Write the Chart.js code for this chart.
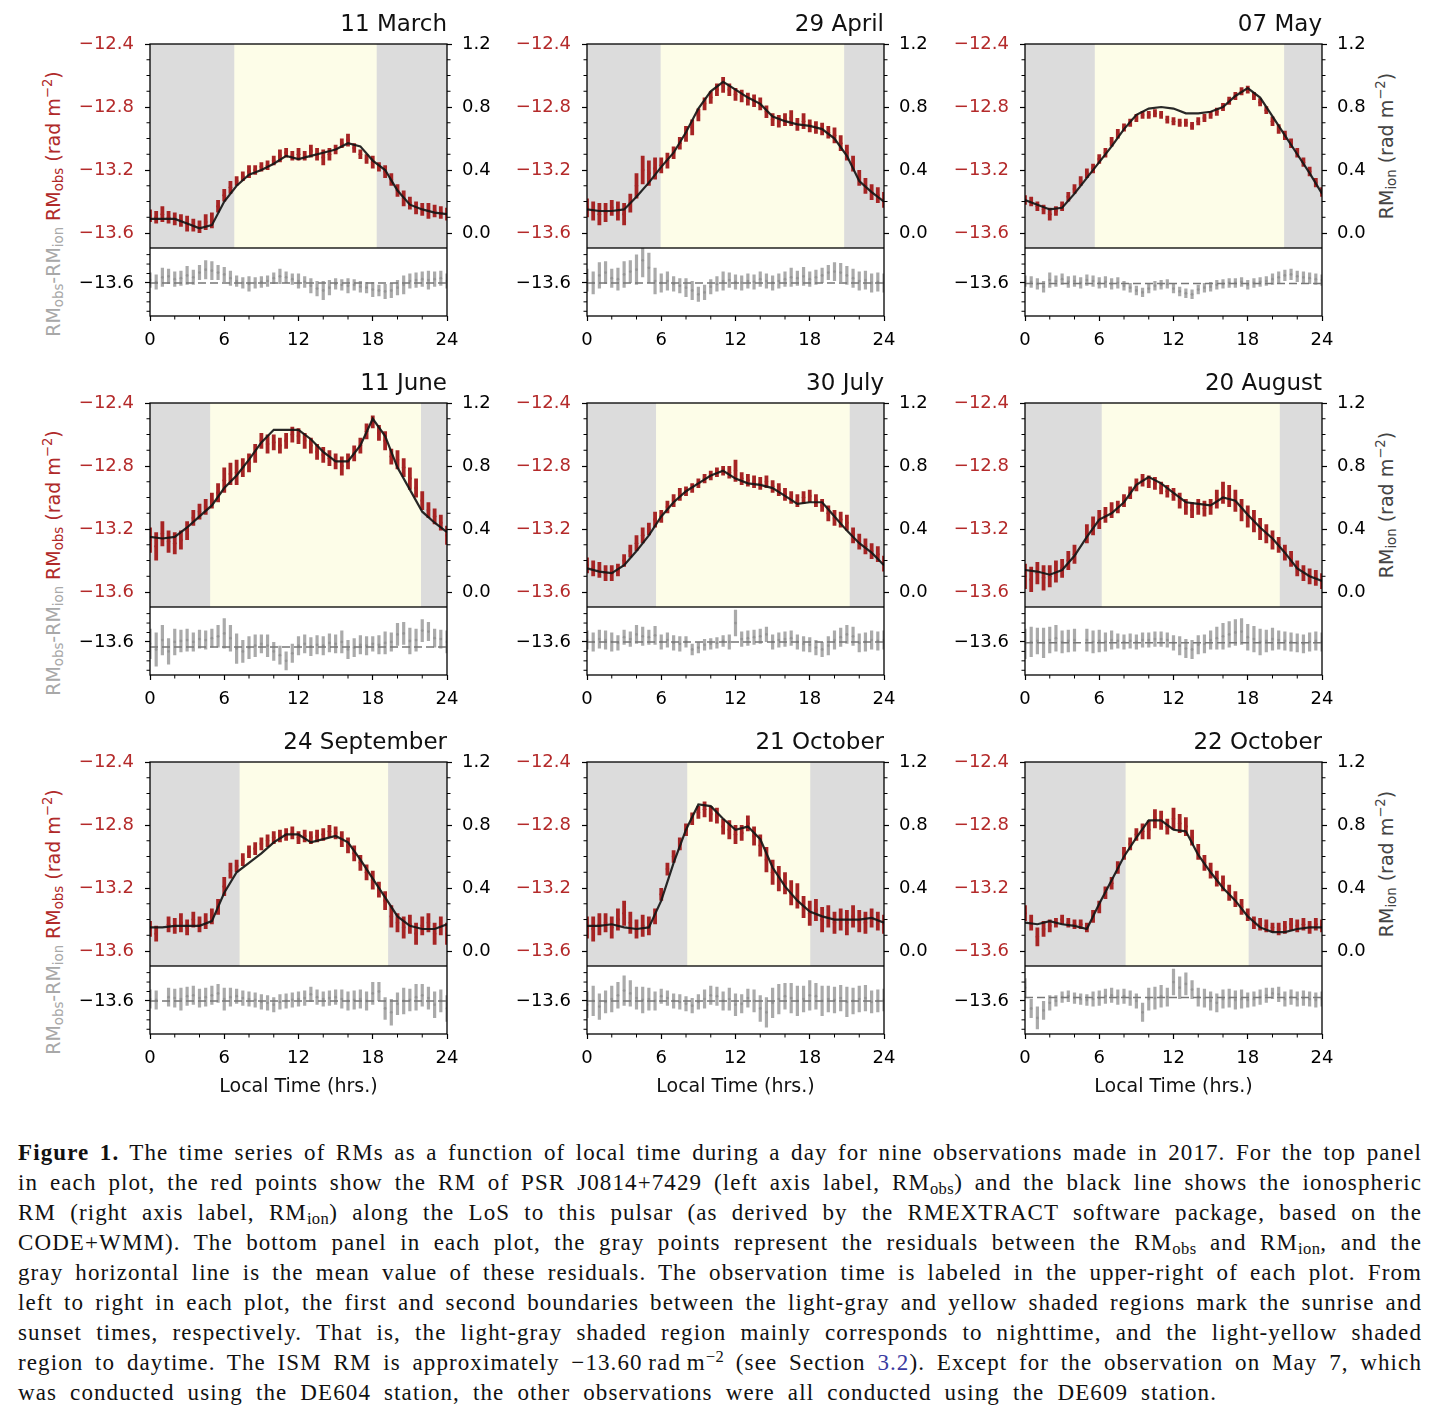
<!DOCTYPE html>
<html>
<head>
<meta charset="utf-8">
<script src="https://cdn.jsdelivr.net/npm/chart.js@4.4.1/dist/chart.umd.min.js"></script>
<style>
html, body { margin: 0; padding: 0; background: #fff; }
#fig { position: relative; width: 1440px; height: 1415px; overflow: hidden; font-family: "DejaVu Sans", sans-serif; }
.box { position: absolute; }
.box canvas { display: block; }
.ylab { position: absolute; white-space: nowrap; font-size: 19px; line-height: 19px;
        transform: translate(-50%, -50%) rotate(-90deg); }
.ylab sub { font-size: 70%; vertical-align: -0.3em; line-height: 0; }
.ylab sup { font-size: 70%; vertical-align: 0.55em; line-height: 0; }
.g { color: #a8a8a8; }
.r { color: #b02a2a; }
.k { color: #444; }
#cap { position: absolute; left: 18px; top: 1138px; width: 1404px; color: #111;
       font-family: "Liberation Serif", "Times New Roman", serif; font-size: 23px; line-height: 30px; letter-spacing: 1.1px; }
#cap .ln { text-align: justify; text-align-last: justify; height: 30px; }
#cap .last { width: 1199px; }
#cap sub { font-size: 72%; vertical-align: -0.25em; line-height: 0; letter-spacing: 0.4px; }
#cap sup { font-size: 72%; vertical-align: 0.5em; line-height: 0; letter-spacing: 0.4px; }
#cap .ref { color: #3b3ba0; }
</style>
</head>
<body>
<div id="fig">
  <div class="ylab" style="left:53px;top:204px"><span class="g">RM<sub>obs</sub>-RM<sub>ion</sub></span> <span class="r">RM<sub>obs</sub> (rad m<sup>−2</sup>)</span></div>
  <div class="ylab" style="left:53px;top:563px"><span class="g">RM<sub>obs</sub>-RM<sub>ion</sub></span> <span class="r">RM<sub>obs</sub> (rad m<sup>−2</sup>)</span></div>
  <div class="ylab" style="left:53px;top:922px"><span class="g">RM<sub>obs</sub>-RM<sub>ion</sub></span> <span class="r">RM<sub>obs</sub> (rad m<sup>−2</sup>)</span></div>
  <div class="ylab k" style="left:1386px;top:146px">RM<sub>ion</sub> (rad m<sup>−2</sup>)</div>
  <div class="ylab k" style="left:1386px;top:505px">RM<sub>ion</sub> (rad m<sup>−2</sup>)</div>
  <div class="ylab k" style="left:1386px;top:864px">RM<sub>ion</sub> (rad m<sup>−2</sup>)</div>

  <div id="cap">
    <div class="ln"><b>Figure 1.</b> The time series of RMs as a function of local time during a day for nine observations made in 2017. For the top panel</div>
    <div class="ln">in each plot, the red points show the RM of PSR J0814+7429 (left axis label, RM<sub>obs</sub>) and the black line shows the ionospheric</div>
    <div class="ln">RM (right axis label, RM<sub>ion</sub>) along the LoS to this pulsar (as derived by the RMEXTRACT software package, based on the</div>
    <div class="ln">CODE+WMM). The bottom panel in each plot, the gray points represent the residuals between the RM<sub>obs</sub> and RM<sub>ion</sub>, and the</div>
    <div class="ln">gray horizontal line is the mean value of these residuals. The observation time is labeled in the upper-right of each plot. From</div>
    <div class="ln">left to right in each plot, the first and second boundaries between the light-gray and yellow shaded regions mark the sunrise and</div>
    <div class="ln">sunset times, respectively. That is, the light-gray shaded region mainly corresponds to nighttime, and the light-yellow shaded</div>
    <div class="ln">region to daytime. The ISM RM is approximately −13.60&thinsp;rad&thinsp;m<sup>−2</sup> (see Section <span class="ref">3.2</span>). Except for the observation on May 7, which</div>
    <div class="ln last">was conducted using the DE604 station, the other observations were all conducted using the DE609 station.</div>
  </div>
</div>

<script>
// time grids (local time, hrs)
var hours = [0,1,2,3,4,5,6,7,8,9,10,11,12,13,14,15,16,17,18,19,20,21,22,23,24];
var halfHours = [0,0.5,1,1.5,2,2.5,3,3.5,4,4.5,5,5.5,6,6.5,7,7.5,8,8.5,9,9.5,10,10.5,11,11.5,
                 12,12.5,13,13.5,14,14.5,15,15.5,16,16.5,17,17.5,18,18.5,19,19.5,20,20.5,21,21.5,22,22.5,23,23.5,24];

var panelTitles = ['11 March', '29 April', '07 May', '11 June', '30 July', '20 August', '24 September', '21 October', '22 October'];
var sunrise = [6.81, 5.95, 5.64, 4.86, 5.58, 6.20, 7.24, 8.10, 8.13];
var sunset  = [18.32, 20.78, 20.94, 21.90, 21.23, 20.59, 19.24, 18.04, 18.07];
var resMean = [-13.600, -13.600, -13.603, -13.627, -13.600, -13.604, -13.600, -13.600, -13.582];

// tick labels
var leftTicks  = [-13.6, -13.2, -12.8, -12.4];
var leftMinor  = [-13.5, -13.4, -13.3, -13.1, -13.0, -12.9, -12.7, -12.6, -12.5];
var rightTicks = [0.0, 0.4, 0.8, 1.2];
var rightMinor = [0.1, 0.2, 0.3, 0.5, 0.6, 0.7, 0.9, 1.0, 1.1];
var resTicks   = [-13.6];
var resMinor   = [-13.75, -13.70, -13.65, -13.55, -13.50, -13.45];
var timeTicks  = [0, 6, 12, 18, 24];
var timeMinor  = [2, 4, 8, 10, 14, 16, 20, 22];

// ---- 11 March ----
var ion0311 = [0.09,0.09,0.09,0.06,0.03,0.05,0.20,0.30,0.37,0.40,0.44,0.49,0.47,0.49,0.51,0.53,0.57,0.55,0.46,0.40,0.27,0.18,0.15,0.13,0.12];
var obs0311 = [-13.49,-13.50,-13.48,-13.50,-13.51,-13.52,-13.54,-13.55,-13.56,-13.53,-13.52,-13.43,
               -13.36,-13.31,-13.27,-13.24,-13.21,-13.20,-13.18,-13.17,-13.14,-13.11,-13.09,-13.11,
               -13.10,-13.11,-13.08,-13.10,-13.12,-13.10,-13.07,-13.03,-13.01,-13.06,-13.10,-13.13,
               -13.15,-13.18,-13.21,-13.26,-13.33,-13.38,-13.41,-13.44,-13.45,-13.46,-13.46,-13.47,-13.48];
var err0311 = [0.04,0.04,0.05,0.04,0.04,0.04,0.05,0.04,0.04,0.05,0.05,0.04,
               0.04,0.04,0.03,0.03,0.04,0.03,0.03,0.03,0.03,0.04,0.03,0.03,
               0.04,0.03,0.04,0.04,0.05,0.04,0.03,0.03,0.04,0.03,0.03,0.03,
               0.04,0.03,0.04,0.04,0.04,0.05,0.04,0.04,0.04,0.05,0.04,0.04,0.04];
var res0311 = [-13.585,-13.595,-13.570,-13.565,-13.580,-13.575,-13.560,-13.570,-13.545,-13.530,-13.535,-13.545,
               -13.555,-13.575,-13.590,-13.600,-13.605,-13.600,-13.595,-13.590,-13.575,-13.565,-13.570,-13.580,
               -13.590,-13.595,-13.615,-13.630,-13.640,-13.625,-13.605,-13.610,-13.615,-13.610,-13.620,-13.625,
               -13.635,-13.640,-13.645,-13.640,-13.625,-13.610,-13.590,-13.585,-13.580,-13.585,-13.580,-13.575,-13.590];

// ---- 29 April ----
var ion0429 = [0.15,0.14,0.14,0.15,0.23,0.32,0.42,0.51,0.64,0.79,0.90,0.96,0.91,0.86,0.82,0.74,0.71,0.69,0.68,0.66,0.60,0.49,0.33,0.26,0.20];
var obs0429 = [-13.44,-13.46,-13.48,-13.47,-13.44,-13.46,-13.48,-13.41,-13.30,-13.20,-13.22,-13.19,
               -13.17,-13.14,-13.09,-13.03,-12.97,-12.93,-12.85,-12.78,-12.74,-12.69,-12.66,-12.69,
               -12.72,-12.73,-12.75,-12.76,-12.78,-12.83,-12.88,-12.89,-12.88,-12.87,-12.91,-12.89,
               -12.92,-12.93,-12.94,-12.96,-12.98,-13.03,-13.09,-13.16,-13.25,-13.30,-13.34,-13.36,-13.39];
var err0429 = [0.06,0.06,0.07,0.06,0.05,0.06,0.07,0.06,0.08,0.09,0.08,0.07,
               0.05,0.05,0.04,0.04,0.05,0.05,0.04,0.04,0.04,0.04,0.05,0.04,
               0.04,0.04,0.04,0.04,0.04,0.04,0.04,0.04,0.04,0.05,0.04,0.05,
               0.04,0.04,0.04,0.04,0.05,0.05,0.05,0.05,0.05,0.05,0.05,0.05,0.05];
var res0429 = [-13.585,-13.600,-13.560,-13.545,-13.575,-13.580,-13.555,-13.540,-13.530,-13.480,-13.520,-13.590,
               -13.600,-13.590,-13.605,-13.615,-13.625,-13.640,-13.660,-13.650,-13.620,-13.605,-13.590,-13.585,
               -13.595,-13.600,-13.590,-13.595,-13.580,-13.590,-13.600,-13.590,-13.580,-13.570,-13.575,-13.565,
               -13.580,-13.570,-13.560,-13.545,-13.540,-13.545,-13.560,-13.575,-13.590,-13.585,-13.600,-13.595,-13.600];

// ---- 07 May ----
var ion0507 = [0.21,0.18,0.15,0.16,0.25,0.35,0.45,0.55,0.66,0.75,0.79,0.80,0.79,0.76,0.76,0.77,0.80,0.87,0.92,0.86,0.74,0.62,0.50,0.38,0.25];
var obs0507 = [-13.39,-13.40,-13.43,-13.45,-13.48,-13.46,-13.43,-13.37,-13.32,-13.27,-13.22,-13.19,
               -13.13,-13.09,-13.02,-12.97,-12.93,-12.90,-12.87,-12.85,-12.85,-12.84,-12.85,-12.88,
               -12.89,-12.90,-12.90,-12.92,-12.89,-12.87,-12.85,-12.83,-12.80,-12.76,-12.73,-12.70,
               -12.69,-12.73,-12.77,-12.82,-12.89,-12.94,-12.98,-13.03,-13.09,-13.15,-13.21,-13.28,-13.34];
var err0507 = [0.03,0.03,0.03,0.03,0.04,0.03,0.03,0.03,0.03,0.03,0.03,0.03,
               0.03,0.03,0.03,0.03,0.025,0.025,0.025,0.025,0.025,0.025,0.025,0.025,
               0.025,0.025,0.025,0.025,0.025,0.025,0.025,0.025,0.025,0.025,0.025,0.025,
               0.025,0.025,0.025,0.025,0.03,0.03,0.03,0.03,0.03,0.03,0.03,0.03,0.03];
var res0507 = [-13.590,-13.595,-13.605,-13.620,-13.585,-13.590,-13.580,-13.595,-13.590,-13.600,-13.585,-13.590,
               -13.600,-13.595,-13.605,-13.600,-13.615,-13.625,-13.640,-13.650,-13.630,-13.615,-13.610,-13.605,
               -13.630,-13.645,-13.655,-13.660,-13.635,-13.625,-13.620,-13.610,-13.605,-13.600,-13.600,-13.595,
               -13.610,-13.600,-13.595,-13.590,-13.580,-13.570,-13.560,-13.555,-13.565,-13.570,-13.575,-13.580,-13.585];

// ---- 11 June ----
var ion0611 = [0.35,0.34,0.35,0.41,0.48,0.55,0.66,0.74,0.84,0.95,1.03,1.03,1.03,0.97,0.89,0.83,0.83,0.93,1.10,0.99,0.79,0.65,0.51,0.44,0.38];
var obs0611 = [-13.27,-13.31,-13.23,-13.28,-13.29,-13.27,-13.21,-13.13,-13.09,-13.06,-13.02,-12.97,
               -12.89,-12.85,-12.84,-12.81,-12.78,-12.72,-12.64,-12.66,-12.65,-12.67,-12.64,-12.60,
               -12.61,-12.64,-12.67,-12.71,-12.73,-12.75,-12.77,-12.80,-12.77,-12.72,-12.67,-12.58,
               -12.52,-12.59,-12.64,-12.74,-12.76,-12.81,-12.88,-12.94,-13.02,-13.08,-13.12,-13.16,-13.24];
var err0611 = [0.08,0.09,0.08,0.07,0.07,0.06,0.06,0.05,0.05,0.05,0.05,0.06,
               0.08,0.07,0.08,0.06,0.06,0.06,0.05,0.06,0.05,0.05,0.05,0.05,
               0.05,0.05,0.05,0.05,0.05,0.05,0.05,0.06,0.05,0.05,0.05,0.05,
               0.04,0.05,0.06,0.05,0.06,0.06,0.07,0.06,0.06,0.05,0.05,0.05,0.06];
var res0611 = [-13.610,-13.640,-13.590,-13.650,-13.600,-13.595,-13.590,-13.600,-13.585,-13.590,-13.580,-13.570,
               -13.555,-13.580,-13.635,-13.650,-13.630,-13.620,-13.610,-13.620,-13.650,-13.670,-13.700,-13.660,
               -13.620,-13.610,-13.625,-13.615,-13.620,-13.605,-13.610,-13.600,-13.640,-13.630,-13.615,-13.620,
               -13.610,-13.615,-13.605,-13.600,-13.560,-13.555,-13.595,-13.590,-13.540,-13.545,-13.580,-13.585,-13.600];

// ---- 30 July ----
var ion0730 = [0.15,0.13,0.12,0.17,0.26,0.36,0.48,0.57,0.64,0.69,0.74,0.77,0.72,0.69,0.68,0.66,0.61,0.56,0.57,0.57,0.48,0.39,0.31,0.25,0.17];
var obs0730 = [-13.43,-13.45,-13.46,-13.48,-13.48,-13.46,-13.40,-13.34,-13.29,-13.24,-13.20,-13.14,
               -13.12,-13.06,-13.02,-12.98,-12.96,-12.94,-12.91,-12.88,-12.86,-12.84,-12.83,-12.84,
               -12.83,-12.88,-12.89,-12.90,-12.91,-12.90,-12.93,-12.95,-12.98,-13.00,-13.02,-13.00,
               -12.99,-13.02,-13.05,-13.10,-13.13,-13.14,-13.16,-13.24,-13.28,-13.31,-13.34,-13.36,-13.42];
var err0730 = [0.05,0.05,0.05,0.05,0.05,0.04,0.04,0.04,0.05,0.05,0.04,0.05,
               0.04,0.04,0.04,0.04,0.03,0.03,0.03,0.03,0.03,0.03,0.03,0.04,
               0.07,0.04,0.04,0.04,0.04,0.04,0.04,0.04,0.04,0.04,0.04,0.04,
               0.04,0.04,0.04,0.05,0.05,0.05,0.05,0.05,0.05,0.05,0.05,0.05,0.05];
var res0730 = [-13.590,-13.600,-13.585,-13.590,-13.600,-13.605,-13.575,-13.585,-13.560,-13.570,-13.575,-13.565,
               -13.600,-13.590,-13.605,-13.610,-13.600,-13.640,-13.630,-13.615,-13.610,-13.605,-13.595,-13.600,
               -13.500,-13.585,-13.580,-13.575,-13.570,-13.560,-13.600,-13.590,-13.585,-13.580,-13.600,-13.610,
               -13.615,-13.630,-13.640,-13.620,-13.590,-13.575,-13.560,-13.570,-13.605,-13.600,-13.590,-13.595,-13.590];

// ---- 20 August ----
var ion0820 = [0.14,0.13,0.11,0.14,0.23,0.35,0.46,0.50,0.57,0.68,0.73,0.69,0.63,0.57,0.56,0.55,0.60,0.58,0.49,0.41,0.34,0.25,0.15,0.10,0.07];
var obs0820 = [-13.50,-13.52,-13.48,-13.51,-13.50,-13.47,-13.45,-13.40,-13.36,null,-13.23,-13.18,
               -13.14,-13.11,-13.08,-13.06,-13.02,-12.97,-12.92,-12.89,-12.90,-12.91,-12.94,-12.96,
               -12.98,-13.02,-13.06,-13.08,-13.06,-13.07,-13.06,-13.01,-12.97,-12.99,-13.02,-13.08,
               -13.12,-13.15,-13.20,-13.23,-13.27,-13.30,-13.35,-13.39,-13.45,-13.48,-13.50,-13.51,-13.53];
var err0820 = [0.08,0.08,0.07,0.08,0.07,0.07,0.06,0.06,0.06,0.06,0.06,0.06,
               0.06,0.05,0.05,0.04,0.04,0.04,0.04,0.04,0.04,0.04,0.04,0.04,
               0.04,0.05,0.05,0.05,0.05,0.05,0.05,0.06,0.07,0.07,0.07,0.07,
               0.07,0.07,0.07,0.06,0.06,0.05,0.05,0.05,0.05,0.05,0.05,0.05,0.05];
var res0820 = [-13.610,-13.600,-13.595,-13.605,-13.590,-13.580,-13.600,-13.595,-13.590,null,-13.590,-13.600,
               -13.595,-13.600,-13.590,-13.595,-13.600,-13.595,-13.600,-13.590,-13.590,-13.585,-13.585,-13.590,
               -13.605,-13.620,-13.635,-13.640,-13.615,-13.610,-13.590,-13.580,-13.570,-13.560,-13.550,-13.545,
               -13.575,-13.585,-13.600,-13.595,-13.585,-13.590,-13.595,-13.600,-13.605,-13.610,-13.600,-13.595,-13.600];

// ---- 24 September ----
var ion0924 = [0.15,0.15,0.16,0.16,0.16,0.19,0.37,0.50,0.56,0.62,0.69,0.74,0.74,0.69,0.71,0.73,0.69,0.58,0.46,0.34,0.22,0.16,0.14,0.14,0.17];
var obs0924 = [-13.46,-13.49,null,-13.43,-13.44,-13.42,-13.45,-13.40,-13.43,-13.41,-13.38,-13.32,
               -13.19,-13.09,-13.06,-13.02,-12.97,-12.95,-12.92,-12.90,-12.88,-12.87,-12.86,-12.85,
               -12.88,-12.87,-12.88,-12.87,-12.86,-12.84,-12.85,-12.89,-12.93,-12.98,-13.04,-13.10,
               -13.15,-13.21,-13.28,-13.38,-13.42,-13.45,-13.43,-13.49,-13.44,-13.42,-13.49,-13.44,-13.49];
var err0924 = [0.05,0.05,0.05,0.05,0.05,0.06,0.05,0.05,0.05,0.05,0.05,0.05,
               0.06,0.05,0.04,0.04,0.04,0.04,0.04,0.04,0.04,0.04,0.04,0.04,
               0.04,0.04,0.04,0.04,0.04,0.04,0.04,0.05,0.05,0.05,0.05,0.05,
               0.06,0.05,0.06,0.07,0.06,0.07,0.06,0.07,0.06,0.06,0.07,0.06,0.07];
var res0924 = [-13.590,-13.595,null,-13.580,-13.585,-13.590,-13.575,-13.570,-13.585,-13.580,-13.570,-13.560,
               -13.590,-13.580,-13.575,-13.585,-13.590,-13.595,-13.605,-13.610,-13.620,-13.605,-13.600,-13.595,
               -13.590,-13.585,-13.565,-13.580,-13.590,-13.585,-13.580,-13.590,-13.600,-13.595,-13.590,-13.600,
               -13.560,-13.550,-13.640,-13.660,-13.615,-13.600,-13.595,-13.580,-13.570,-13.585,-13.620,-13.600,-13.640];

// ---- 21 October ----
var ion1021 = [0.16,0.16,0.17,0.15,0.14,0.15,0.32,0.56,0.77,0.93,0.92,0.84,0.77,0.79,0.71,0.53,0.41,0.32,0.25,0.22,0.20,0.20,0.20,0.21,0.18];
var obs1021 = [-13.45,-13.46,-13.43,-13.42,-13.45,-13.40,-13.36,-13.42,-13.46,-13.44,-13.44,-13.38,
               -13.24,-13.08,-13.00,-12.92,-12.83,-12.76,-12.72,-12.70,-12.73,-12.74,-12.81,-12.83,
               -12.86,-12.85,-12.79,-12.87,-12.93,-13.02,-13.10,-13.14,-13.17,-13.23,-13.25,-13.32,
               -13.36,-13.34,-13.40,-13.38,-13.42,-13.40,-13.42,-13.38,-13.41,-13.42,-13.39,-13.41,-13.43];
var err1021 = [0.07,0.08,0.07,0.06,0.07,0.07,0.08,0.07,0.06,0.07,0.06,0.05,
               0.04,0.04,0.04,0.04,0.04,0.04,0.04,0.05,0.05,0.05,0.05,0.06,
               0.06,0.05,0.05,0.06,0.07,0.08,0.08,0.08,0.07,0.08,0.08,0.07,
               0.08,0.07,0.08,0.07,0.07,0.07,0.08,0.07,0.07,0.07,0.06,0.06,0.06];
var res1021 = [-13.620,-13.600,-13.630,-13.605,-13.590,-13.570,-13.545,-13.560,-13.585,-13.595,-13.590,-13.600,
               -13.575,-13.585,-13.600,-13.605,-13.615,-13.625,-13.605,-13.590,-13.570,-13.575,-13.600,-13.590,
               -13.620,-13.615,-13.585,-13.600,-13.640,-13.660,-13.610,-13.590,-13.575,-13.585,-13.600,-13.590,
               -13.570,-13.575,-13.600,-13.590,-13.595,-13.585,-13.605,-13.600,-13.590,-13.585,-13.605,-13.600,-13.595];

// ---- 22 October ----
var ion1022 = [0.18,0.17,0.19,0.17,0.16,0.14,0.30,0.45,0.60,0.72,0.83,0.83,0.77,0.76,0.61,0.50,0.40,0.32,0.22,0.15,0.12,0.12,0.14,0.15,0.15];
var obs1022 = [-13.36,-13.42,-13.51,-13.46,-13.44,-13.42,-13.40,-13.42,-13.43,-13.43,-13.45,-13.38,
               -13.32,-13.23,-13.17,-13.07,-12.98,-12.92,-12.86,-12.84,-12.83,-12.76,-12.77,-12.81,
               -12.76,-12.79,-12.81,-12.88,-12.97,-13.04,-13.09,-13.14,-13.17,-13.23,-13.27,-13.32,
               -13.37,-13.42,-13.43,-13.44,-13.45,-13.46,-13.45,-13.43,-13.44,-13.43,-13.45,-13.43,-13.44];
var err1022 = [0.05,0.05,0.06,0.05,0.04,0.03,0.03,0.03,0.03,0.03,0.03,0.04,
               0.04,0.04,0.04,0.04,0.04,0.04,0.04,0.05,0.06,0.06,0.06,0.05,
               0.07,0.06,0.06,0.05,0.05,0.05,0.05,0.05,0.05,0.05,0.05,0.05,
               0.04,0.04,0.04,0.04,0.03,0.04,0.04,0.04,0.04,0.04,0.04,0.04,0.04];
var res1022 = [-13.530,-13.640,-13.690,-13.650,-13.610,-13.600,-13.580,-13.575,-13.585,-13.590,-13.595,-13.590,
               -13.585,-13.575,-13.570,-13.580,-13.575,-13.585,-13.600,-13.660,-13.590,-13.585,-13.575,-13.580,
               -13.500,-13.530,-13.510,-13.540,-13.580,-13.585,-13.600,-13.610,-13.590,-13.585,-13.595,-13.590,
               -13.595,-13.590,-13.580,-13.570,-13.560,-13.565,-13.590,-13.580,-13.590,-13.585,-13.590,-13.595,-13.590];

var panels = [
  {ion: ion0311, obs: obs0311, err: err0311, res: res0311},
  {ion: ion0429, obs: obs0429, err: err0429, res: res0429},
  {ion: ion0507, obs: obs0507, err: err0507, res: res0507},
  {ion: ion0611, obs: obs0611, err: err0611, res: res0611},
  {ion: ion0730, obs: obs0730, err: err0730, res: res0730},
  {ion: ion0820, obs: obs0820, err: err0820, res: res0820},
  {ion: ion0924, obs: obs0924, err: err0924, res: res0924},
  {ion: ion1021, obs: obs1021, err: err1021, res: res1021},
  {ion: ion1022, obs: obs1022, err: err1022, res: res1022}
];

// layout of the 3x3 grid (plot-area edges in page pixels)
var colLeft = [150, 587, 1025];
var rowTop = [44, 403, 762];
var PLOT_W = 297, TOP_H = 204, BOT_H = 68, TITLE_H = 36, AXL = 90, AXR = 70;

var RED = 'rgb(166,36,36)';
var RED_TXT = 'rgb(180,42,42)';
var GRAY = 'rgba(140,140,140,0.74)';

Chart.defaults.font.family = '"DejaVu Sans", sans-serif';
Chart.defaults.font.size = 18;
Chart.defaults.color = '#000';

function fmtTick(v) {
  var s = Math.abs(v).toFixed(1);
  return v < -1e-9 ? '\u2212' + s : s;
}

// shading, error bars, frame and minor ticks
var panelPlugin = {
  id: 'panel',
  beforeDatasetsDraw: function (chart, args, o) {
    var ctx = chart.ctx, a = chart.chartArea, sc = chart.scales;
    ctx.save();
    ctx.beginPath();
    ctx.rect(a.left, a.top, a.width, a.height);
    ctx.clip();
    if (o.sunrise != null) {
      ctx.fillStyle = '#dcdcdc';
      ctx.fillRect(a.left, a.top, a.width, a.height);
      var x1 = sc.x.getPixelForValue(o.sunrise), x2 = sc.x.getPixelForValue(o.sunset);
      ctx.fillStyle = '#fdfde8';
      ctx.fillRect(x1, a.top, x2 - x1, a.height);
    }
    chart.data.datasets.forEach(function (ds) {
      if (!ds.errors) return;
      var ys = sc[ds.yAxisID];
      ctx.strokeStyle = ds.errorColor;
      ctx.lineWidth = ds.errorWidth;
      ctx.beginPath();
      ds.data.forEach(function (p, k) {
        if (p.y == null) return;
        var px = sc.x.getPixelForValue(p.x);
        ctx.moveTo(px, ys.getPixelForValue(p.y - ds.errors[k]));
        ctx.lineTo(px, ys.getPixelForValue(p.y + ds.errors[k]));
      });
      ctx.stroke();
    });
    ctx.restore();
  },
  afterDraw: function (chart, args, o) {
    var ctx = chart.ctx, a = chart.chartArea, sc = chart.scales;
    ctx.save();
    ctx.strokeStyle = '#000';
    ctx.lineWidth = 1.3;
    ctx.strokeRect(a.left, a.top, a.width, a.height);
    ctx.lineWidth = 1;
    ctx.beginPath();
    Object.keys(o.minor || {}).forEach(function (id) {
      var s = sc[id];
      o.minor[id].forEach(function (v) {
        var p = s.getPixelForValue(v);
        if (s.position === 'left') { ctx.moveTo(a.left, p); ctx.lineTo(a.left - 3.5, p); }
        else if (s.position === 'right') { ctx.moveTo(a.right, p); ctx.lineTo(a.right + 3.5, p); }
        else { ctx.moveTo(p, a.bottom); ctx.lineTo(p, a.bottom + 3.5); }
      });
    });
    ctx.stroke();
    ctx.restore();
  }
};

var tickGrid = {drawOnChartArea: false, drawTicks: true, tickLength: 5, tickWidth: 1.2, tickColor: '#000'};

function yAxis(pos, min, max, major, color) {
  return {
    type: 'linear', position: pos, min: min, max: max,
    afterBuildTicks: function (s) { s.ticks = major.map(function (v) { return {value: v}; }); },
    afterFit: function (s) {
      s.width = pos === 'left' ? AXL : AXR;
      s.paddingTop = 0;
      s.paddingBottom = 0;
    },
    grid: tickGrid,
    border: {display: false},
    ticks: {color: color, padding: pos === 'left' ? 11 : 10, callback: fmtTick}
  };
}

function makeCanvas(left, top, w, h) {
  var d = document.createElement('div');
  d.className = 'box';
  d.style.left = left + 'px';
  d.style.top = top + 'px';
  var c = document.createElement('canvas');
  c.width = w; c.height = h;
  c.style.width = w + 'px'; c.style.height = h + 'px';
  d.appendChild(c);
  document.getElementById('fig').appendChild(d);
  return c;
}

function pts(xs, ys) {
  return xs.map(function (x, k) { return {x: x, y: ys[k] == null ? null : ys[k]}; });
}

panels.forEach(function (p, i) {
  var col = i % 3, row = Math.floor(i / 3);
  var W = AXL + PLOT_W + AXR;

  // upper panel: RM_obs with error bars, RM_ion line
  var c1 = makeCanvas(colLeft[col] - AXL, rowTop[row] - TITLE_H, W, TITLE_H + TOP_H);
  new Chart(c1, {
    type: 'scatter',
    data: {
      datasets: [
        {type: 'line', data: pts(hours, p.ion), yAxisID: 'y2', borderColor: 'rgba(22,22,22,0.92)',
         borderWidth: 2.2, pointRadius: 0, tension: 0},
        {data: pts(halfHours, p.obs), yAxisID: 'y', pointRadius: 1.8, pointBackgroundColor: RED,
         pointBorderWidth: 0, errors: p.err, errorColor: RED, errorWidth: 3.8}
      ]
    },
    options: {
      responsive: false, animation: false, events: [],
      layout: {autoPadding: false, padding: 0},
      plugins: {
        legend: {display: false}, tooltip: {enabled: false},
        title: {display: true, text: panelTitles[i], align: 'end', fullSize: false, color: '#111',
                font: {size: 23, lineHeight: 1, weight: 'normal'}, padding: {top: 6, bottom: 7}},
        panel: {sunrise: sunrise[i], sunset: sunset[i], minor: {y: leftMinor, y2: rightMinor}}
      },
      scales: {
        x: {type: 'linear', min: 0, max: 24, display: false},
        y: yAxis('left', -13.695, -12.4, leftTicks, RED_TXT),
        y2: yAxis('right', -0.095, 1.2, rightTicks, '#000')
      }
    },
    plugins: [panelPlugin]
  });

  // lower panel: residuals RM_obs - RM_ion
  var xH = row === 2 ? 72 : 40;
  var c2 = makeCanvas(colLeft[col] - AXL, rowTop[row] + TOP_H, W, BOT_H + xH);
  new Chart(c2, {
    type: 'scatter',
    data: {
      datasets: [
        {type: 'line', data: [{x: 0, y: resMean[i]}, {x: 24, y: resMean[i]}], yAxisID: 'y',
         borderColor: '#777', borderWidth: 1.6, borderDash: [8, 4], pointRadius: 0},
        {data: pts(halfHours, p.res), yAxisID: 'y', pointRadius: 1.4, pointBackgroundColor: GRAY,
         pointBorderWidth: 0, errors: p.err, errorColor: GRAY, errorWidth: 3.2}
      ]
    },
    options: {
      responsive: false, animation: false, events: [],
      layout: {autoPadding: false, padding: {top: 0, left: 0, bottom: 0, right: AXR}},
      plugins: {
        legend: {display: false}, tooltip: {enabled: false},
        panel: {minor: {y: resMinor, x: timeMinor}}
      },
      scales: {
        x: {
          type: 'linear', min: 0, max: 24,
          afterBuildTicks: function (s) { s.ticks = timeTicks.map(function (v) { return {value: v}; }); },
          afterFit: function (s) { s.height = xH; },
          grid: tickGrid,
          border: {display: false},
          ticks: {padding: 9, maxRotation: 0, callback: function (v) { return String(v); }},
          title: {display: row === 2, text: 'Local Time (hrs.)', color: '#111', font: {size: 19},
                  padding: {top: 0, bottom: 8}}
        },
        y: yAxis('left', -13.775, -13.415, resTicks, '#000')
      }
    },
    plugins: [panelPlugin]
  });
});
</script>
</body>
</html>
